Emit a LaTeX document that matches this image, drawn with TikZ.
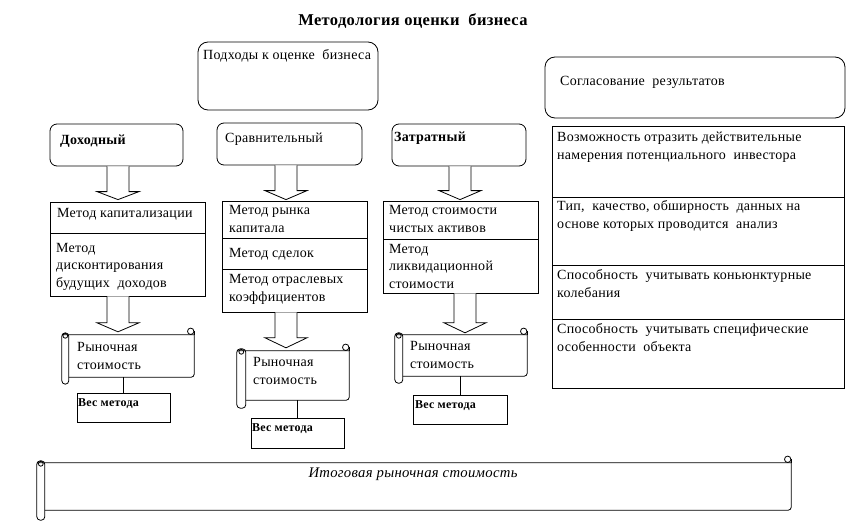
\documentclass[tikz,border=0pt]{standalone}
\usepackage{fontspec}
\setmainfont{Liberation Serif}[LetterSpace=2]
\usetikzlibrary{fit,calc}
\newcommand\blkarr[5]{% src, dst, center x, tip gap, head height
  \draw[barrow] let \p1=(#1.south), \p2=(#2.north), \p3=(#3,0) in
    (\x3-11pt,\y1) -- (\x3-11pt,\y2+#4pt+#5pt) -- (\x3-21pt,\y2+#4pt+#5pt)
    -- (\x3,\y2+#4pt) -- (\x3+21pt,\y2+#4pt+#5pt) -- (\x3+11pt,\y2+#4pt+#5pt)
    -- (\x3+11pt,\y1);}
\newcommand\scrolldeco[3]{% node, roll width, roll overhang
  \draw[sline] ([xshift=-#2]#1.north west) -- ([yshift=0pt]#1.north east)
    [rounded corners=3pt] -- (#1.south east) -- (#1.south west);
  \draw[sline] ([yshift=3.5pt]#1.north east) -- (#1.north east);
  \draw[sline] ([xshift=-3.5pt,yshift=3.5pt]#1.north east) circle[radius=3.2pt];
  \draw[sline, rounded corners=3.5pt] ([xshift=-#2,yshift=2pt]#1.north west) rectangle ([yshift=-#3]#1.south west);
  \draw[sline] ([xshift=-#2*0.5,yshift=-1pt]#1.north west) circle[radius=2.4pt];
}
\begin{document}
\begin{tikzpicture}[x=1pt,y=-1pt,
  box/.style={draw, line width=0.8pt, inner sep=0pt},
  rbox/.style={box, rounded corners=7pt},
  sline/.style={line width=0.8pt},
  txt/.style={anchor=base west, inner sep=0pt, font=\fontsize{14}{17.5}\selectfont, align=left},
  btxt/.style={txt, font=\fontsize{14}{17.5}\selectfont\bfseries},
  wtxt/.style={txt, font=\fontsize{12}{13}\selectfont\bfseries},
  barrow/.style={draw, line width=0.8pt, fill=white},
]
\fill[white] (0,0) rectangle (860,530);
\useasboundingbox (0,0) rectangle (860,530);

\node[anchor=base, inner sep=0pt, font=\fontsize{16.5}{18}\selectfont\bfseries] (title) at (413,25) {Методология оценки\ \ бизнеса};

% top boxes
\node[rbox, rounded corners=10pt, fit={(198,42) (378,110)}] (appr) {};
\node[txt] (apprt) at (203,59) {Подходы к оценке\ \ бизнеса};
\node[rbox, rounded corners=10pt, fit={(545,57) (845,118)}] (agree) {};
\node[txt] (agreet) at (560,85) {Согласование\ \ результатов};

% approaches
\node[rbox, fit={(50,124) (183,166)}] (d) {};
\node[btxt] (dt) at (60,144) {Доходный};
\node[rbox, fit={(217,123) (362,165)}] (c) {};
\node[txt] (ct) at (225,142) {Сравнительный};
\node[rbox, fit={(392,124) (526,166)}] (z) {};
\node[btxt] (zt) at (394,141) {Затратный};

% methods (base anchor = last line baseline)
\node[box, fit={(50,202) (205,233)}] (m11) {};
\node[txt] (m11t) at (57,217) {Метод капитализации};
\node[box, fit={(50,233) (205,296)}] (m12) {};
\node[txt] (m12t) at (56,287) {Метод\\дисконтирования\\будущих\ \ доходов};

\node[box, fit={(222,201) (367,238)}] (m21) {};
\node[txt] (m21t) at (229,232) {Метод рынка\\капитала};
\node[box, fit={(222,238) (367,269)}] (m22) {};
\node[txt] (m22t) at (229,257) {Метод сделок};
\node[box, fit={(222,269) (367,312)}] (m23) {};
\node[txt] (m23t) at (229,301) {Метод отраслевых\\коэффициентов};

\node[box, fit={(383,201) (538,239)}] (m31) {};
\node[txt] (m31t) at (389,232) {Метод стоимости\\чистых активов};
\node[box, fit={(383,239) (538,293)}] (m32) {};
\node[txt] (m32t) at (389,288) {Метод\\ликвидационной\\стоимости};

% scrolls
\node[inner sep=0pt, fit={(69,335) (194,377)}] (s1) {};
\scrolldeco{s1}{7pt}{7pt}
\node[txt] (s1t) at (77,369) {Рыночная\\стоимость};
\node[inner sep=0pt, fit={(246,351) (349,400)}] (s2) {};
\scrolldeco{s2}{9pt}{8pt}
\node[txt] (s2t) at (253,384) {Рыночная\\стоимость};
\node[inner sep=0pt, fit={(403,335) (527,376)}] (s3) {};
\scrolldeco{s3}{8pt}{7pt}
\node[txt] (s3t) at (410,368) {Рыночная\\стоимость};

% arrows
\blkarr{d}{m11}{118}{2}{8}
\blkarr{m12}{s1}{118}{3}{9}
\blkarr{c}{m21}{286}{1}{9}
\blkarr{m23}{s2}{286}{3}{10}
\blkarr{z}{m31}{460}{1}{9}
\blkarr{m32}{s3}{465}{2}{10}

% weights
\node[box, fit={(77,393) (170,422)}] (w1) {};
\node[wtxt] (w1t) at (78,406) {Вес метода};
\node[box, fit={(251,418) (344,448)}] (w2) {};
\node[wtxt] (w2t) at (252,431) {Вес метода};
\node[box, fit={(413,395) (507,424)}] (w3) {};
\node[wtxt] (w3t) at (415,408) {Вес метода};
\draw[sline] (w1.north) -- (w1.north |- s1.south);
\draw[sline] (w2.north) -- (w2.north |- s2.south);
\draw[sline] (w3.north) -- (w3.north |- s3.south);

% right table
\node[box, fit={(552,126) (844,197)}] (r1) {};
\node[txt] (r1t) at (557,159) {Возможность\ отразить действительные\\намерения потенциального\ \ инвестора};
\node[box, fit={(552,197) (844,265)}] (r2) {};
\node[txt] (r2t) at (557,228) {Тип,\ \ качество, обширность\ \ данных на\\основе которых проводится\ \ анализ};
\node[box, fit={(552,265) (844,319)}] (r3) {};
\node[txt] (r3t) at (557,297) {Способность\ \ учитывать коньюнктурные\\колебания};
\node[box, fit={(552,319) (844,388)}] (r4) {};
\node[txt] (r4t) at (557,351) {Способность\ \ учитывать специфические\\особенности\ \ объекта};

% final scroll
\node[inner sep=0pt, fit={(45,463) (791,510)}] (sf) {};
\scrolldeco{sf}{8pt}{10pt}
\node[anchor=base, inner sep=0pt, font=\fontsize{14.7}{16}\selectfont\itshape] (sft) at (413,477) {Итоговая рыночная стоимость};
\end{tikzpicture}
\end{document}
